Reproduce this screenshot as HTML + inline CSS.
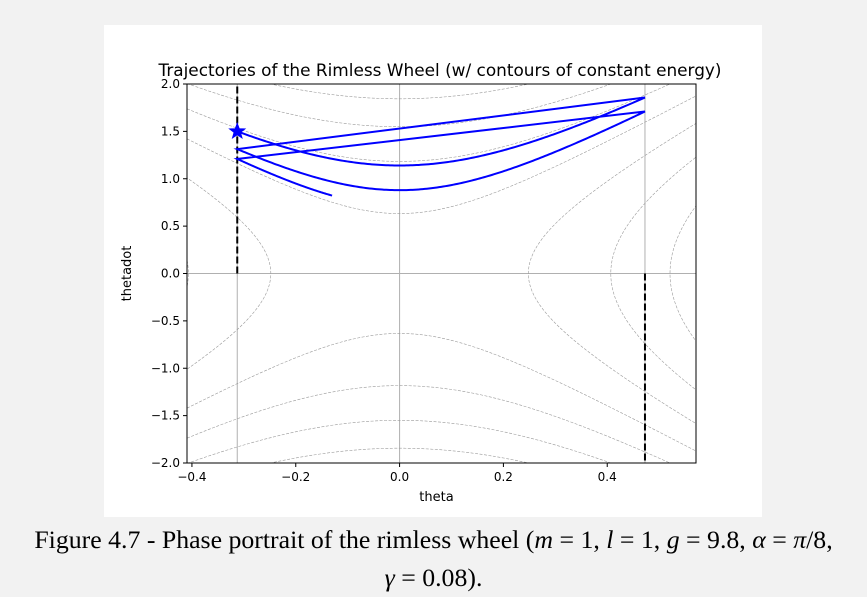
<!DOCTYPE html>
<html><head><meta charset="utf-8"><style>
body{margin:0;width:867px;height:597px;background:#f2f2f2;overflow:hidden;position:relative;font-family:"DejaVu Sans","Liberation Sans",sans-serif}
#panel{position:absolute;left:104px;top:25px;width:658px;height:492px;background:#fff}
#cap{position:absolute;left:0;width:867px;top:521px;text-align:center;font-family:"Liberation Serif",serif;font-size:25.8px;line-height:38px;color:#000;white-space:nowrap}
#cap i{font-style:italic}
</style></head><body>
<div id="panel"></div>
<svg id="chart" width="867" height="597" style="position:absolute;left:0;top:0"></svg>
<div id="cap">Figure 4.7 - Phase portrait of the rimless wheel (<i>m</i> = 1, <i>l</i> = 1, <i>g</i> = 9.8, <i>α</i> = <i>π</i>/8,<br><i>γ</i> = 0.08).</div>
<script>
const xTicks=[-0.4,-0.2,0.0,0.2,0.4];
const xTickLabels=["−0.4","−0.2","0.0","0.2","0.4"];
const yTicks=[-2,-1.5,-1,-0.5,0,0.5,1,1.5,2];
const yTickLabels=["−2.0","−1.5","−1.0","−0.5","0.0","0.5","1.0","1.5","2.0"];
const energyLevels=[8.0,8.5,9.0,9.5,10.0,10.5,11.0,11.5];
const params=[9.8,0.3927,0.08]; // g/l, alpha, gamma
const segStartThetadot=[1.5,1.313,1.209];
const segEndTheta=[0.4727,0.4727,-0.13];

const L=187,R=696,T=84,B=463;
const xmin=-0.4095,xmax=0.571,ymin=-2,ymax=2;
const sx=v=>L+(v-xmin)/(xmax-xmin)*(R-L);
const sy=v=>B-(v-ymin)/(ymax-ymin)*(B-T);
const svg=document.getElementById('chart');
const NS='http://www.w3.org/2000/svg';
function mk(t,a){const e=document.createElementNS(NS,t);for(const k in a)e.setAttribute(k,a[k]);return e;}
const g=params[0],alpha=params[1],gamma=params[2];
const thMin=gamma-alpha,thMax=gamma+alpha;

const defs=mk('defs',{});const cp=mk('clipPath',{id:'clip'});cp.appendChild(mk('rect',{x:L,y:T,width:R-L,height:B-T}));defs.appendChild(cp);svg.appendChild(defs);
const plot=mk('g',{'clip-path':'url(#clip)'});svg.appendChild(plot);

[[0,'v'],[thMin,'v'],[thMax,'v'],[0,'h']].forEach(([v,o],i)=>{
  const ln=o==='v'?mk('line',{x1:sx(v),x2:sx(v),y1:T,y2:B}):mk('line',{x1:L,x2:R,y1:sy(v),y2:sy(v)});
  ln.setAttribute('stroke','#b0b0b0');ln.setAttribute('stroke-width','1');
  
  
  plot.appendChild(ln);
});

energyLevels.forEach(E=>{
  const paths=[];
  if(E<g){
    [1,-1].forEach(side=>{
      let pts=[];
      for(let i=0;i<=400;i++){const td=-2.2+4.4*i/400;const c=(E-0.5*td*td)/g;if(c>=-1&&c<=1){pts.push([side*Math.acos(c),td]);}}
      paths.push(pts);
    });
  } else {
    [1,-1].forEach(sgn=>{
      let pts=[];
      for(let i=0;i<=300;i++){const th=xmin+(xmax-xmin)*i/300;const v=2*(E-g*Math.cos(th));if(v>=0)pts.push([th,sgn*Math.sqrt(v)]);}
      paths.push(pts);
    });
  }
  paths.forEach(pts=>{
    const d=pts.map((p,i)=>(i?'L':'M')+sx(p[0]).toFixed(2)+','+sy(p[1]).toFixed(2)).join('');
    const p=mk('path',{d:d,fill:'none',stroke:'#999','stroke-width':'0.6','stroke-dasharray':'3,1.5'});
    
    
    plot.appendChild(p);
  });
});

const d1=mk('line',{x1:sx(thMin),x2:sx(thMin),y1:sy(0),y2:T,stroke:'#000','stroke-width':'2','stroke-dasharray':'7,3'});


plot.appendChild(d1);
const d2=mk('line',{x1:sx(thMax),x2:sx(thMax),y1:sy(0),y2:B,stroke:'#000','stroke-width':'2','stroke-dasharray':'7,3'});


plot.appendChild(d2);

let tpts=[];
segStartThetadot.forEach((td0,k)=>{
  const E=0.5*td0*td0+g*Math.cos(thMin);
  const end=segEndTheta[k];
  for(let i=0;i<=200;i++){const th=thMin+(end-thMin)*i/200;const v=2*(E-g*Math.cos(th));tpts.push([th,Math.sqrt(Math.max(v,0))]);}
});
const td=tpts.map((p,i)=>(i?'L':'M')+sx(p[0]).toFixed(2)+','+sy(p[1]).toFixed(2)).join('');
const traj=mk('path',{d:td,fill:'none',stroke:'#0000ff','stroke-width':'2'});


plot.appendChild(traj);

(function(){const cx=sx(thMin),cy=sy(segStartThetadot[0]);const ro=8,ri=3.3;let d='';
for(let i=0;i<10;i++){const r=i%2?ri:ro;const a=-Math.PI/2+i*Math.PI/5;d+=(i?'L':'M')+(cx+r*Math.cos(a)).toFixed(2)+','+(cy+r*Math.sin(a)).toFixed(2);}
const s=mk('path',{d:d+'Z',fill:'#0000ff',stroke:'#0000ff','stroke-width':'1'});


svg.appendChild(s);})();

const fr=mk('rect',{x:L,y:T,width:R-L,height:B-T,fill:'none',stroke:'#000','stroke-width':'1'});


svg.appendChild(fr);

xTicks.forEach((v,i)=>{
  const x=sx(v);
  const t=mk('line',{x1:x,x2:x,y1:B,y2:B+4,stroke:'#000','stroke-width':'1'});
  
  
  svg.appendChild(t);
  const tx=mk('text',{x:x,y:B+18,'text-anchor':'middle','font-size':'12',fill:'#000'});
  tx.textContent=xTickLabels[i];
  
  
  svg.appendChild(tx);
});
yTicks.forEach((v,i)=>{
  const y=sy(v);
  const t=mk('line',{x1:L-4,x2:L,y1:y,y2:y,stroke:'#000','stroke-width':'1'});
  
  
  svg.appendChild(t);
  const tx=mk('text',{x:L-7,y:y+4,'text-anchor':'end','font-size':'12',fill:'#000'});
  tx.textContent=yTickLabels[i];
  
  
  svg.appendChild(tx);
});

const title=mk('text',{x:440,y:T-8,'text-anchor':'middle','font-size':'16.9',fill:'#000'});
title.textContent='Trajectories of the Rimless Wheel (w/ contours of constant energy)';


svg.appendChild(title);
const xl=mk('text',{x:(L+R)/2-5,y:B+38,'text-anchor':'middle','font-size':'13',fill:'#000'});
xl.textContent='theta';


svg.appendChild(xl);
const yl=mk('text',{x:0,y:0,'text-anchor':'middle','font-size':'13',fill:'#000',transform:'translate(131,'+((T+B)/2)+') rotate(-90)'});
yl.textContent='thetadot';


svg.appendChild(yl);
</script>
</body></html>
